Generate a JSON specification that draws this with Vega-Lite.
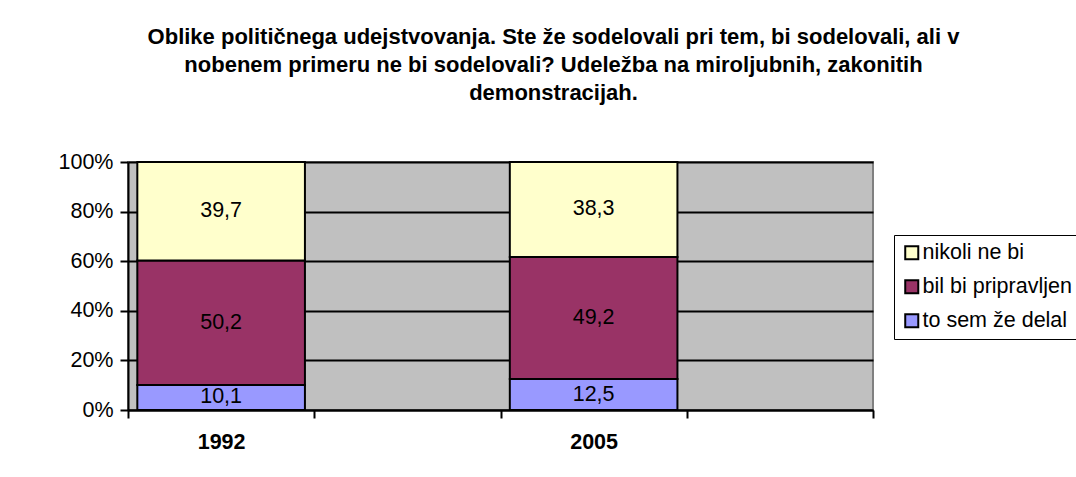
{
  "$schema": "https://vega.github.io/schema/vega-lite/v6.json",
  "autosize": {"type": "none"},
  "padding": {"left": 128, "top": 162, "right": 203, "bottom": 67},
  "width": 745,
  "height": 248,
  "background": "white",
  "title": {
    "text": ["Oblike političnega udejstvovanja. Ste že sodelovali pri tem, bi sodelovali, ali v", "nobenem primeru ne bi sodelovali? Udeležba na miroljubnih, zakonitih", "demonstracijah."],
    "font": "Liberation Sans",
    "fontSize": 22,
    "fontWeight": "bold",
    "color": "black",
    "lineHeight": 28,
    "anchor": "middle",
    "frame": "group",
    "dx": 53,
    "offset": 46
  },
  "data": {
    "values": [
      {"year": "1992", "cat": "to sem že delal", "v": 10.1},
      {"year": "1992", "cat": "bil bi pripravljen", "v": 50.2},
      {"year": "1992", "cat": "nikoli ne bi", "v": 39.7},
      {"year": "2005", "cat": "to sem že delal", "v": 12.5},
      {"year": "2005", "cat": "bil bi pripravljen", "v": 49.2},
      {"year": "2005", "cat": "nikoli ne bi", "v": 38.3}
    ]
  },
  "transform": [
    {"calculate": "indexof(['to sem že delal','bil bi pripravljen','nikoli ne bi'], datum.cat)", "as": "k"},
    {"stack": "v", "groupby": ["year"], "sort": [{"field": "k", "order": "ascending"}], "as": ["v0", "v1"]},
    {"calculate": "(datum.v0 + datum.v1) / 2", "as": "mid"},
    {"calculate": "replace(format(datum.v, '.1f'), '.', ',')", "as": "lbl"}
  ],
  "encoding": {
    "x": {
      "field": "year",
      "type": "nominal",
      "scale": {"domain": ["1992", "a1", "2005", "a2"], "paddingInner": 0, "paddingOuter": 0},
      "axis": {
        "title": null,
        "labelAngle": 0,
        "labelExpr": "(datum.value === '1992' || datum.value === '2005') ? datum.value : ''",
        "labelFont": "Liberation Sans",
        "labelFontSize": 21.5,
        "labelFontWeight": "bold",
        "labelColor": "black",
        "labelPadding": 13,
        "tickBand": "extent",
        "tickSize": 8,
        "tickColor": "black",
        "tickWidth": 2,
        "domainColor": "black",
        "domainWidth": 2,
        "grid": false
      }
    }
  },
  "layer": [
    {
      "mark": {"type": "bar", "stroke": "black", "strokeWidth": 2, "width": {"band": 0.9}},
      "encoding": {
        "y": {
          "field": "v0",
          "type": "quantitative",
          "scale": {"domain": [0, 100], "nice": false},
          "axis": {
            "title": null,
            "values": [0, 20, 40, 60, 80, 100],
            "labelExpr": "datum.value + '%'",
            "labelFont": "Liberation Sans",
            "labelFontSize": 21.5,
            "labelColor": "black",
            "labelPadding": 7,
            "tickSize": 8,
            "tickColor": "black",
            "tickWidth": 2,
            "domainColor": "black",
            "domainWidth": 2,
            "grid": true,
            "gridColor": "black",
            "gridWidth": 2,
            "gridOpacity": 1
          }
        },
        "y2": {"field": "v1"},
        "color": {
          "field": "cat",
          "type": "nominal",
          "scale": {
            "domain": ["nikoli ne bi", "bil bi pripravljen", "to sem že delal"],
            "range": ["#FFFFCC", "#993366", "#9999FF"]
          },
          "legend": {
            "title": null,
            "orient": "none",
            "legendX": 766,
            "legendY": 73,
            "symbolType": "square",
            "symbolSize": 170,
            "symbolStrokeColor": "black",
            "symbolStrokeWidth": 2,
            "symbolOpacity": 1,
            "labelFont": "Liberation Sans",
            "labelFontSize": 21.5,
            "labelColor": "black",
            "labelOffset": 0,
            "rowPadding": 11,
            "padding": 7,
            "strokeColor": "black",
            "fillColor": "white"
          }
        }
      }
    },
    {
      "mark": {"type": "text", "font": "Liberation Sans", "fontSize": 21.5, "color": "black", "baseline": "middle"},
      "encoding": {
        "y": {"field": "mid", "type": "quantitative"},
        "text": {"field": "lbl"}
      }
    }
  ],
  "config": {
    "view": {"fill": "#C0C0C0", "stroke": "#808080", "strokeWidth": 2}
  }
}
